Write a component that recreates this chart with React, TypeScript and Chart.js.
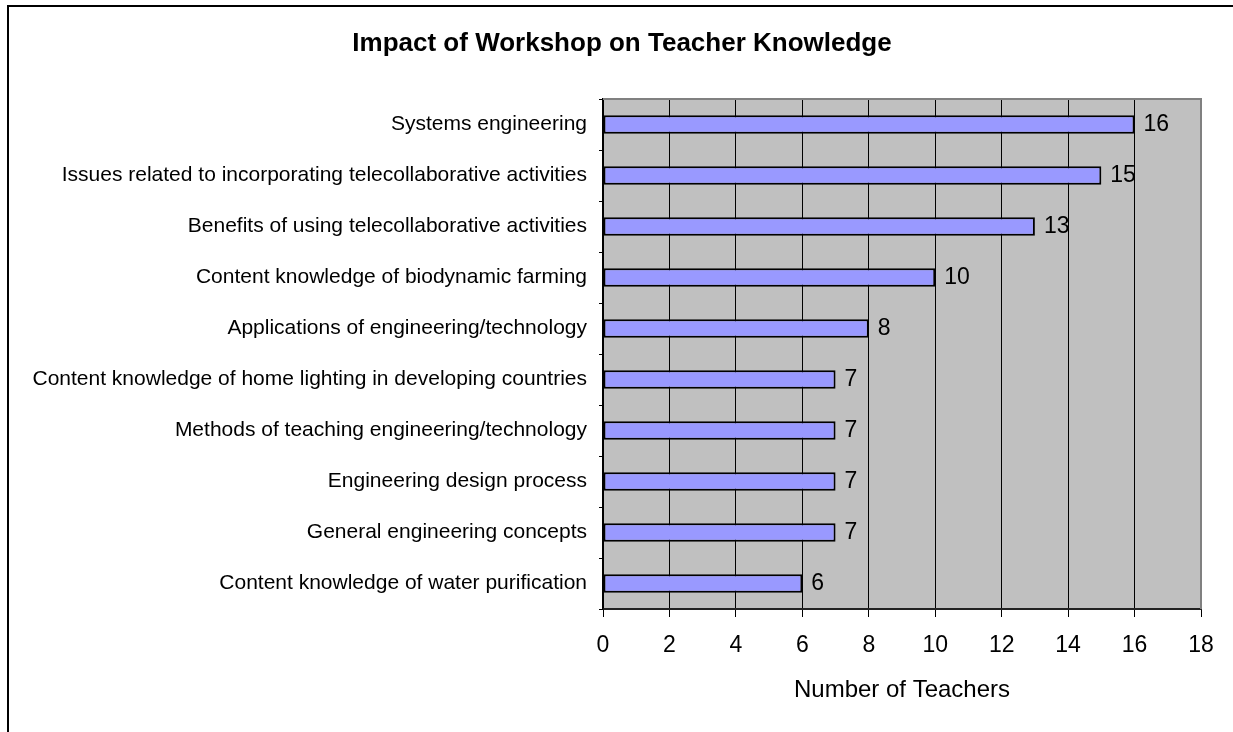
import React, { useEffect, useRef } from "react";
import { Chart, registerables } from "chart.js";

Chart.register(...registerables);

const FONT = "'Liberation Sans', Arial, Helvetica, sans-serif";

const chartTitle = "Impact of Workshop on Teacher Knowledge";
const axisTitle = "Number of Teachers";

const categories = [
  "Systems engineering",
  "Issues related to incorporating telecollaborative activities",
  "Benefits of using telecollaborative activities",
  "Content knowledge of biodynamic farming",
  "Applications of engineering/technology",
  "Content knowledge of home lighting in developing countries",
  "Methods of teaching engineering/technology",
  "Engineering design process",
  "General engineering concepts",
  "Content knowledge of water purification",
];

const teacherCounts = [16, 15, 13, 10, 8, 7, 7, 7, 7, 6];

const xMin = 0;
const xMax = 18;
const xStep = 2;

export default function App() {
  const ref = useRef<HTMLCanvasElement | null>(null);

  useEffect(() => {
    if (!ref.current) return;

    const decorations = {
      id: "decorations",
      beforeDraw(chart: any) {
        const { ctx, chartArea: a } = chart;
        ctx.save();
        ctx.fillStyle = "#ffffff";
        ctx.fillRect(0, 0, chart.width, chart.height);
        ctx.fillStyle = "#C0C0C0";
        ctx.fillRect(a.left, a.top, a.right - a.left, a.bottom - a.top);
        ctx.restore();
      },
      beforeDatasetsDraw(chart: any) {
        const { ctx, chartArea: a } = chart;
        ctx.save();
        ctx.strokeStyle = "#808080";
        ctx.lineWidth = 2;
        ctx.beginPath();
        ctx.moveTo(a.left, a.top);
        ctx.lineTo(a.right, a.top);
        ctx.lineTo(a.right, a.bottom);
        ctx.stroke();
        ctx.restore();
      },
      afterDatasetsDraw(chart: any) {
        const { ctx } = chart;
        const meta = chart.getDatasetMeta(0);
        ctx.save();
        ctx.fillStyle = "#000";
        ctx.font = `23px ${FONT}`;
        ctx.textAlign = "left";
        ctx.textBaseline = "middle";
        meta.data.forEach((el: any, i: number) => {
          ctx.fillText(String(teacherCounts[i]), el.x + 9, el.y);
        });
        ctx.restore();
      },
      afterDraw(chart: any) {
        const { ctx } = chart;
        ctx.save();
        // chart title
        ctx.fillStyle = "#000";
        ctx.font = `bold 26px ${FONT}`;
        ctx.textAlign = "center";
        ctx.textBaseline = "middle";
        ctx.fillText(chartTitle, 622, 44);
        // outer frame
        ctx.strokeStyle = "#000";
        ctx.lineWidth = 2;
        ctx.beginPath();
        ctx.moveTo(8, chart.height);
        ctx.lineTo(8, 6);
        ctx.lineTo(chart.width, 6);
        ctx.stroke();
        ctx.restore();
      },
    };

    const chart = new Chart(ref.current, {
      type: "bar",
      data: {
        labels: categories,
        datasets: [
          {
            data: teacherCounts,
            backgroundColor: "#9999FF",
            borderColor: "#000000",
            borderWidth: 2,
            borderSkipped: false,
            barPercentage: 0.36,
            categoryPercentage: 1,
          },
        ],
      },
      options: {
        indexAxis: "y",
        responsive: false,
        animation: false,
        layout: { padding: { left: 0, right: 32, top: 99, bottom: 0 } },
        plugins: {
          legend: { display: false },
          tooltip: { enabled: false },
          title: { display: false },
        },
        scales: {
          x: {
            type: "linear",
            min: xMin,
            max: xMax,
            ticks: {
              stepSize: xStep,
              color: "#000",
              font: { family: FONT, size: 23 },
              padding: 15,
              maxRotation: 0,
            },
            grid: {
              color: "#000",
              lineWidth: 1,
              tickLength: 8,
              drawOnChartArea: true,
            },
            border: { color: "#222", width: 2 },
            title: {
              display: true,
              text: axisTitle,
              color: "#000",
              font: { family: FONT, size: 24 },
              padding: { top: 0, bottom: 27 },
            },
            afterFit(scale: any) {
              scale.height = 123;
            },
          },
          y: {
            type: "category",
            ticks: {
              color: "#000",
              font: { family: FONT, size: 21 },
              padding: 12,
              autoSkip: false,
            },
            grid: {
              color: "#000",
              drawOnChartArea: false,
              tickLength: 4,
              offset: true,
            },
            border: { color: "#000", width: 1.5 },
            afterFit(scale: any) {
              scale.width = 603;
            },
          },
        },
      },
      plugins: [decorations],
    });

    return () => chart.destroy();
  }, []);

  return (
    <div style={{ position: "fixed", left: 0, top: 0, width: 1233, height: 732, background: "#fff" }}>
      <canvas ref={ref} width={1233} height={732} style={{ display: "block" }} />
    </div>
  );
}
